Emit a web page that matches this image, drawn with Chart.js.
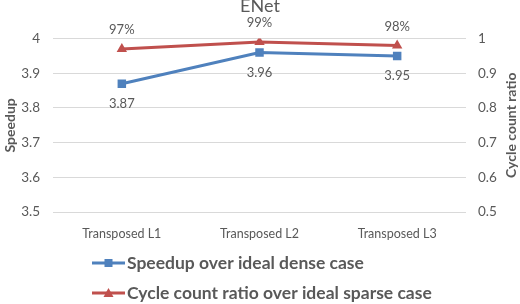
<!DOCTYPE html>
<html>
<head>
<meta charset="utf-8">
<script src="https://cdn.jsdelivr.net/npm/chart.js@4/dist/chart.umd.min.js"></script>
<style>
  html, body { margin: 0; padding: 0; background: #fff; }
  #wrap { width: 520px; height: 304px; }
</style>
</head>
<body>
<div id="wrap"><canvas id="chart" width="520" height="304"></canvas></div>
<script>
// Dữ liệu biểu đồ
var categories = ['Transposed L1', 'Transposed L2', 'Transposed L3'];
var speedup = [3.87, 3.96, 3.95];
var cycleRatio = [0.97, 0.99, 0.98];
var seriesNames = ['Speedup over ideal dense case', 'Cycle count ratio over ideal sparse case'];
var rightTitle = 'Cycle count ratio';

var FONT = 'Lato, "Open Sans", sans-serif';
var GRAY = '#595959';
var BLUE = '#4F81BD';
var RED = '#C0504D';

// Vẽ nhãn giá trị trên các điểm
var labelPlugin = {
    id: 'pointLabels',
    afterDatasetsDraw: function (chart) {
        var ctx = chart.ctx;
        ctx.save();
        ctx.font = '13px ' + FONT;
        ctx.fillStyle = GRAY;
        ctx.textAlign = 'center';
        ctx.textBaseline = 'middle';
        chart.data.datasets.forEach(function (ds, i) {
            var meta = chart.getDatasetMeta(i);
            meta.data.forEach(function (pt, j) {
                var v = ds.data[j];
                if (i === 0) {
                    ctx.fillText(v.toFixed(2), pt.x, pt.y + 20);
                } else {
                    ctx.fillText(Math.round(v * 100) + '%', pt.x, pt.y - 19);
                }
            });
        });
        ctx.restore();
    }
};

// Tiêu đề trục phải, đọc từ dưới lên như bên trái
var rightTitlePlugin = {
    id: 'rightTitle',
    afterDraw: function (chart) {
        var ctx = chart.ctx, area = chart.chartArea;
        ctx.save();
        ctx.translate(511, (area.top + area.bottom) / 2);
        ctx.rotate(-Math.PI / 2);
        ctx.font = 'bold 14px ' + FONT;
        ctx.fillStyle = GRAY;
        ctx.textAlign = 'center';
        ctx.textBaseline = 'middle';
        ctx.fillText(rightTitle, 0, 0);
        ctx.restore();
    }
};

// Chú thích ở dưới, vẽ tay để có đường + ký hiệu
var legendPlugin = {
    id: 'lineLegend',
    afterDraw: function (chart) {
        var ctx = chart.ctx;
        var x0 = 92, rows = [263, 293];
        ctx.save();
        chart.data.datasets.forEach(function (ds, i) {
            var y = rows[i];
            ctx.strokeStyle = ds.borderColor;
            ctx.lineWidth = 3;
            ctx.beginPath();
            ctx.moveTo(x0, y);
            ctx.lineTo(x0 + 33, y);
            ctx.stroke();
            ctx.fillStyle = ds.backgroundColor;
            var cx = x0 + 16.5;
            if (ds.pointStyle === 'rect') {
                ctx.fillRect(cx - 4, y - 4, 8, 8);
            } else {
                ctx.beginPath();
                ctx.moveTo(cx, y - 5);
                ctx.lineTo(cx + 5, y + 4);
                ctx.lineTo(cx - 5, y + 4);
                ctx.closePath();
                ctx.fill();
            }
            ctx.fillStyle = GRAY;
            ctx.font = 'bold 17.5px ' + FONT;
            ctx.textAlign = 'left';
            ctx.textBaseline = 'middle';
            ctx.fillText(ds.label, x0 + 35, y);
        });
        ctx.restore();
    }
};

new Chart(document.getElementById('chart').getContext('2d'), {
    type: 'line',
    data: {
        labels: categories,
        datasets: [{
            label: seriesNames[0],
            data: speedup,
            yAxisID: 'y',
            borderColor: BLUE,
            backgroundColor: BLUE,
            borderWidth: 3,
            pointStyle: 'rect',
            pointRadius: 6,
            pointBorderWidth: 0,
            tension: 0
        }, {
            label: seriesNames[1],
            data: cycleRatio,
            yAxisID: 'y1',
            borderColor: RED,
            backgroundColor: RED,
            borderWidth: 3,
            pointStyle: 'triangle',
            pointRadius: 6,
            pointBorderWidth: 0,
            tension: 0
        }]
    },
    options: {
        responsive: false,
        animation: false,
        layout: { padding: { top: 0, left: 0, right: 0, bottom: 57 } },
        plugins: {
            legend: { display: false },
            tooltip: { enabled: false },
            title: {
                display: true,
                text: 'ENet',
                color: GRAY,
                font: { family: FONT, size: 18, weight: 'normal' },
                padding: { top: -5, bottom: 22 }
            }
        },
        scales: {
            x: {
                offset: true,
                grid: { display: false },
                border: { display: false },
                ticks: { color: GRAY, font: { family: FONT, size: 12.5 }, padding: 6, maxRotation: 0 }
            },
            y: {
                position: 'left',
                min: 3.5, max: 4,
                afterFit: function (scale) { scale.width = 53; },
                ticks: { stepSize: 0.1, color: GRAY, font: { family: FONT, size: 13.5 }, padding: 13,
                    callback: function (v) { return Math.round(v * 10) / 10; } },
                grid: { color: '#D9D9D9', drawTicks: false },
                border: { display: false },
                title: { display: true, text: 'Speedup', color: GRAY, font: { family: FONT, size: 14, weight: 'bold' }, padding: 2 }
            },
            y1: {
                position: 'right',
                min: 0.5, max: 1,
                afterFit: function (scale) { scale.width = 54; },
                ticks: { stepSize: 0.1, color: GRAY, font: { family: FONT, size: 13.5 }, padding: 12,
                    callback: function (v) { return Math.round(v * 10) / 10; } },
                grid: { display: false, drawTicks: false },
                border: { display: false },
                title: { display: false }
            }
        }
    },
    plugins: [labelPlugin, rightTitlePlugin, legendPlugin]
});
</script>
</body>
</html>
